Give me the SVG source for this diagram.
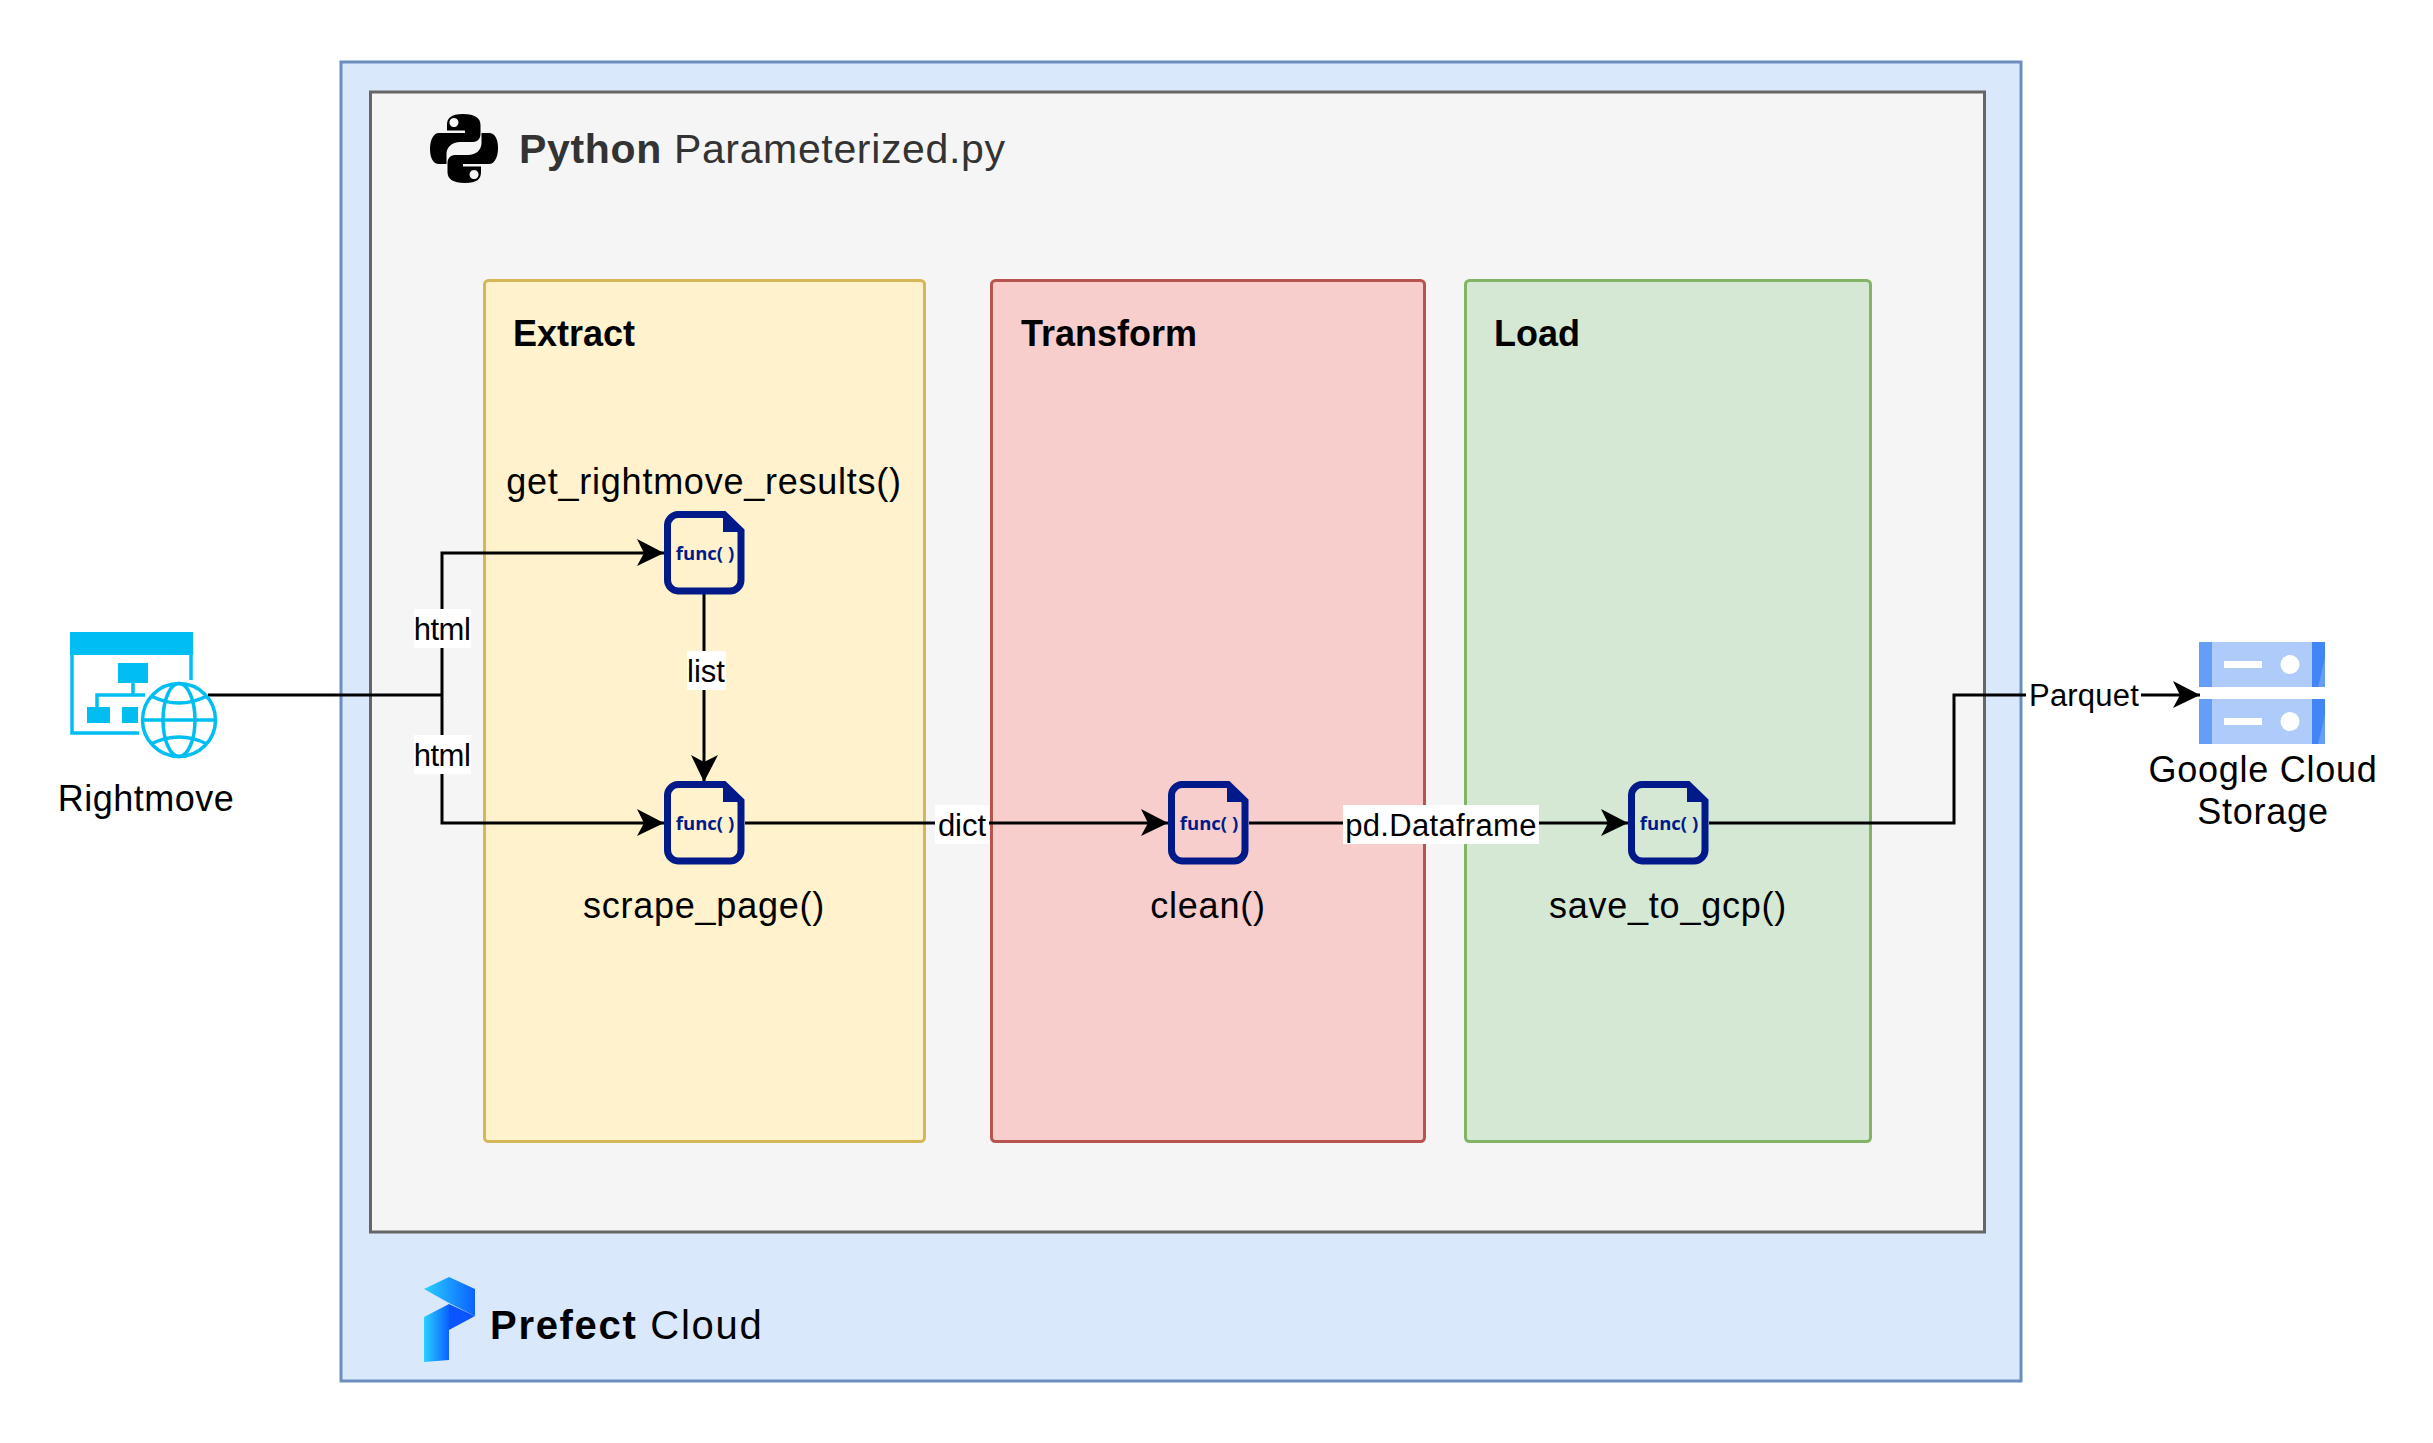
<svg xmlns="http://www.w3.org/2000/svg" width="2433" height="1443" viewBox="0 0 2433 1443">
<style>
text{font-family:"Liberation Sans",Arial,sans-serif;fill:#000}
.t{font-size:36px;text-anchor:middle;letter-spacing:.75px}
.h{font-size:36px;font-weight:bold}
.l{font-size:31px;text-anchor:middle}
.w{fill:#fff}
.c{fill:none;stroke:#000;stroke-width:3}
.f{font-family:"Open Sans",sans-serif;font-size:18.500px;font-weight:bold;text-anchor:middle;fill:#001a8a}
.lane{stroke-width:3}
.fi{fill:none;stroke:#001a8a;stroke-width:7}
.sky{fill:#00bef2}
.skyl{fill:none;stroke:#00bef2;stroke-width:3.500}
</style>
<defs>
<marker id="a" markerUnits="userSpaceOnUse" markerWidth="28" markerHeight="28" refX="27" refY="14" orient="auto"><path d="M0 0L27 14L0 27L7 14Z" fill="#000"/></marker>
<g id="func">
<path class="fi" d="M14 3.500H60L77 20V69A11 11 0 0 1 66 80H14A11 11 0 0 1 3.500 69V14A11 11 0 0 1 14 3.500Z"/>
<path d="M60 3L78 20H60Z" fill="#001a8a" stroke="#001a8a" stroke-width="2"/>
<text class="f" x="41" y="49">func( )</text>
</g>
<linearGradient id="pg" x1="0" y1="0" x2="1" y2="0"><stop offset="0" stop-color="#2bd0ff"/><stop offset="1" stop-color="#0a62ff"/></linearGradient>
<path id="snake" fill-rule="evenodd" d="M33 0C21 0 17 4 17 11V16.500H35V19H9C3 19 0 27 0 34.500C0 44 3 50 9 50H16.500V40C16.500 33 22 28 30 28H43C48 28 50.500 24 50.500 20V11C50.500 4 45 0 33 0ZM24 4A4.500 4.500 0 1 1 23.900 4Z" fill="#000"/>
<g id="srv">
<rect width="126" height="45" fill="#aecbfa"/>
<rect width="13" height="45" fill="#669df6"/>
<rect x="113" width="13" height="45" fill="#4285f4"/>
<path d="M119 45L126 16V45Z" fill="#669df6"/>
<rect x="25" y="19" width="38" height="7" fill="#fff"/>
<circle cx="91" cy="22.500" r="9.500" fill="#fff"/>
</g>
</defs>
<rect width="2433" height="1443" fill="#fff"/>
<g id="prefect-cloud">
<rect x="341" y="62" width="1680" height="1319" fill="#dae8fc" stroke="#6c8ebf" stroke-width="3"/>
<path d="M424 1289L449 1277L475 1289V1316L449 1303Z" fill="url(#pg)"/>
<path d="M424 1317L449 1304V1360L424 1362Z" fill="url(#pg)"/>
<path d="M449 1304L475 1316L449 1330Z" fill="#0a55ff"/>
<text x="490" y="1339" font-size="40" font-weight="bold" letter-spacing="1.700">Prefect <tspan font-weight="normal">Cloud</tspan></text>
</g>
<g id="python">
<rect x="370.500" y="92" width="1614" height="1140" fill="#f5f5f5" stroke="#666" stroke-width="3"/>
<use href="#snake" x="430" y="114"/>
<use href="#snake" transform="rotate(180 464 148.500)" x="430" y="114"/>
<text x="519" y="163" font-size="41" letter-spacing=".65" style="fill:#333"><tspan font-weight="bold" style="fill:#333">Python</tspan> Parameterized.py</text>
</g>
<g id="extract"><rect class="lane" x="484.500" y="280.500" width="440" height="861" rx="4" fill="#fff2cc" stroke="#d6b656"/><text class="h" x="513" y="346">Extract</text><text class="t" x="704" y="494">get_rightmove_results()</text></g>
<g id="transform"><rect class="lane" x="991.500" y="280.500" width="433" height="861" rx="4" fill="#f8cecc" stroke="#b85450"/><text class="h" x="1021" y="346">Transform</text></g>
<g id="load"><rect class="lane" x="1465.500" y="280.500" width="405" height="861" rx="4" fill="#d5e8d4" stroke="#82b366"/><text class="h" x="1494" y="346">Load</text></g>
<g id="connectors">
<path class="c" d="M208 695H443"/>
<path class="c" d="M442 695V553H664" marker-end="url(#a)"/>
<path class="c" d="M442 695V823H664" marker-end="url(#a)"/>
<path class="c" d="M704 594V782" marker-end="url(#a)"/>
<path class="c" d="M745 823H1168" marker-end="url(#a)"/>
<path class="c" d="M1249 823H1628" marker-end="url(#a)"/>
<path class="c" d="M1709 823H1954V695H2200" marker-end="url(#a)"/>
<rect class="w" x="414" y="609" width="57" height="39"/><text class="l" x="442" y="640" letter-spacing="-.5">html</text>
<rect class="w" x="414" y="735" width="57" height="39"/><text class="l" x="442" y="766" letter-spacing="-.5">html</text>
<rect class="w" x="687" y="651" width="39" height="39"/><text class="l" x="706" y="682">list</text>
<rect class="w" x="935" y="805" width="54" height="39"/><text class="l" x="962" y="836">dict</text>
<rect class="w" x="1343" y="805" width="196" height="39"/><text class="l" x="1441" y="836" letter-spacing=".3">pd.Dataframe</text>
<rect class="w" x="2026" y="676" width="115" height="39"/><text class="l" x="2084" y="706" letter-spacing=".2">Parquet</text>
</g>
<g id="rightmove">
<path class="sky" d="M70 632H193V655H70Z"/>
<path class="skyl" d="M72 655V733H139M191 655V680"/>
<rect class="sky" x="118" y="663" width="30" height="20"/>
<rect class="sky" x="87" y="707" width="23" height="16"/>
<rect class="sky" x="122" y="707" width="16" height="16"/>
<path class="skyl" d="M133 683V696M97 707V695H145"/>
<g class="skyl"><circle cx="179" cy="720" r="36.500"/><ellipse cx="179" cy="720" rx="16" ry="36.500"/><path d="M143 720H215M151 696Q179 710 207 696M151 744Q179 730 207 744"/></g>
<text class="t" x="146" y="811" style="letter-spacing:.5px">Rightmove</text>
</g>
<g id="get-rightmove-results"><use href="#func" x="664" y="511"/></g>
<g id="scrape-page"><use href="#func" x="664" y="781"/><text class="t" x="704" y="918">scrape_page()</text></g>
<g id="clean"><use href="#func" x="1168" y="781"/><text class="t" x="1208" y="918">clean()</text></g>
<g id="save-to-gcp"><use href="#func" x="1628" y="781"/><text class="t" x="1668" y="918">save_to_gcp()</text></g>
<g id="gcs"><use href="#srv" x="2199" y="642"/><use href="#srv" x="2199" y="699"/><text class="t" x="2263" y="782">Google Cloud</text><text class="t" x="2263" y="824">Storage</text></g>
</svg>
